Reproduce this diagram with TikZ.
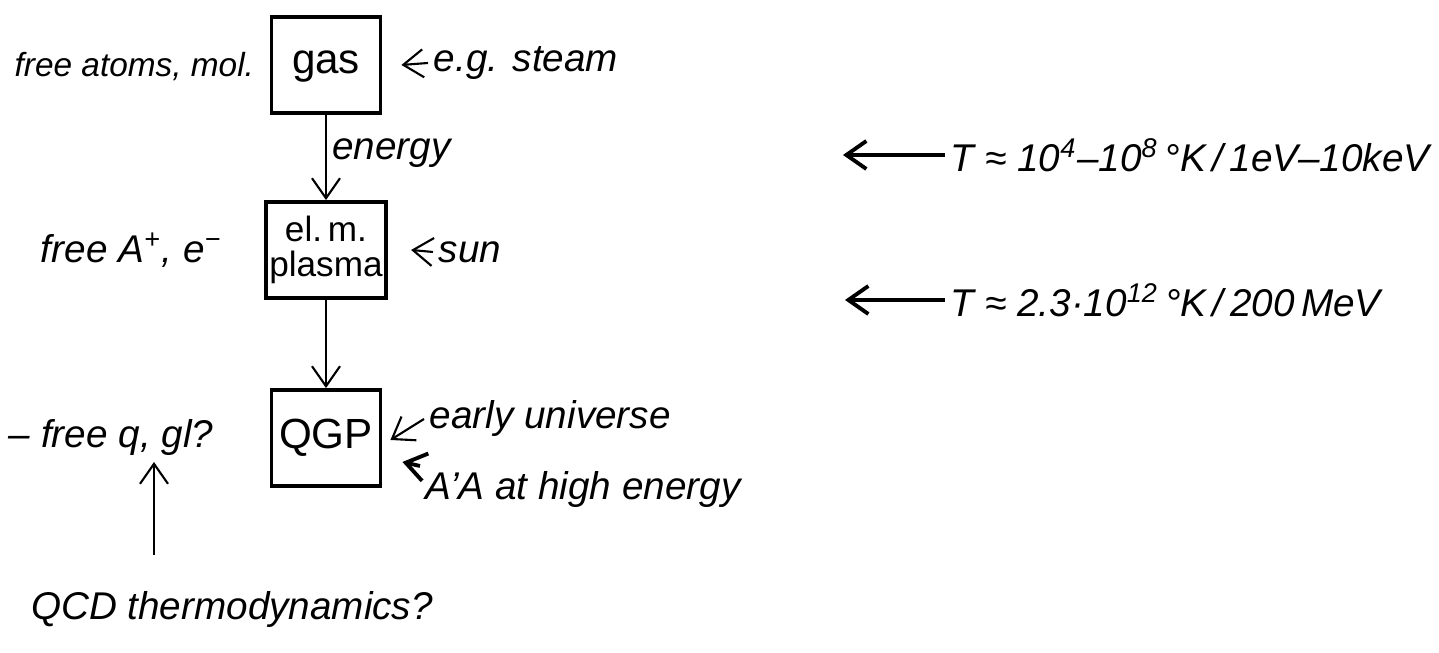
\documentclass[tikz,border=0pt]{standalone}
\usepackage{fontspec}
\setmainfont{Liberation Sans}
\usepackage{tikz}
\usetikzlibrary{arrows.meta,positioning,calc}
\tikzset{
  base/.style={font=\large, align=center, inner sep=1.5pt, text=black},
  box/.style={base, rectangle, draw=black, line width=1.1pt, minimum width=1.09cm, minimum height=0.96cm, inner sep=1pt},
  lbl/.style={base, font=\fontsize{11}{13}\selectfont\itshape},
  arr/.style={-{Straight Barb[length=2mm,width=2.8mm]}, line width=0.6pt, draw=black},
  arrb/.style={arr, line width=1.1pt},
}
\begin{document}
\begin{tikzpicture}
  \useasboundingbox (0,0) rectangle (14.39,6.53);
  % boxes
  \node[box,text depth=0.3ex] (gas)    at (3.26,5.88) {gas};
  \node[box,font=\normalsize] (plasma) at (3.26,4.03) {el.\,m.\\[-2pt]plasma};
  \node[box] (qgp)    at (3.26,2.15) {QGP};
  \draw[arr] (gas) -- (plasma) node[lbl,right,pos=0.45] {energy};
  \draw[arr] (plasma) -- (qgp);
  % left side
  \node[lbl,font=\fontsize{9.5}{12}\selectfont\itshape,anchor=east] (atoms) at (2.60,5.86) {free atoms, mol.};
  \node[lbl,anchor=west] (ions)  at (0.35,4.03) {free A\textsuperscript{+}, e\textsuperscript{−}};
  \node[lbl,anchor=west] (quarks) at (0.03,2.15) {– free q, gl?};
  \node[lbl] (qcd) at (2.32,0.43) {QCD thermodynamics?};
  \coordinate (qcdtail) at (1.54,0.98);
  \draw[arr] (qcdtail) -- (qcdtail |- quarks.south);
  % right side
  \node[lbl,anchor=west] (steam) at (4.28,5.90) {e.g. steam};
  \draw[arr] (steam.west) -- ([xshift=1.9mm]gas.east);
  \node[lbl,anchor=west] (sun) at (4.33,4.01) {sun};
  \draw[arr] (sun.west) -- ([xshift=2.3mm]plasma.east);
  \node[lbl,anchor=west] (early) at (4.24,2.34) {early universe};
  \draw[arr] (early.west) -- ([xshift=0.8mm,yshift=-0.2mm]qgp.east);
  \node[lbl,anchor=west] (aa) at (4.20,1.63) {A'A at high energy};
  \draw[arrb] (aa.north west) -- ([xshift=2mm,yshift=-2.4mm]qgp.east);
  % temperatures
  \node[lbl,anchor=west] (tlow) at (9.45,4.98) {T ≈ 10\textsuperscript{4}–10\textsuperscript{8}\,°K\,/\,1eV–10keV};
  \coordinate (tlowtip) at (8.43,4.98);
  \draw[arrb] (tlow.west) -- (tlowtip);
  \node[lbl,anchor=west] (thigh) at (9.45,3.53) {T ≈ 2.3·10\textsuperscript{12}\,°K\,/\,200\,MeV};
  \coordinate (thightip) at (8.45,3.53);
  \draw[arrb] (thigh.west) -- (thightip);
\end{tikzpicture}
\end{document}
